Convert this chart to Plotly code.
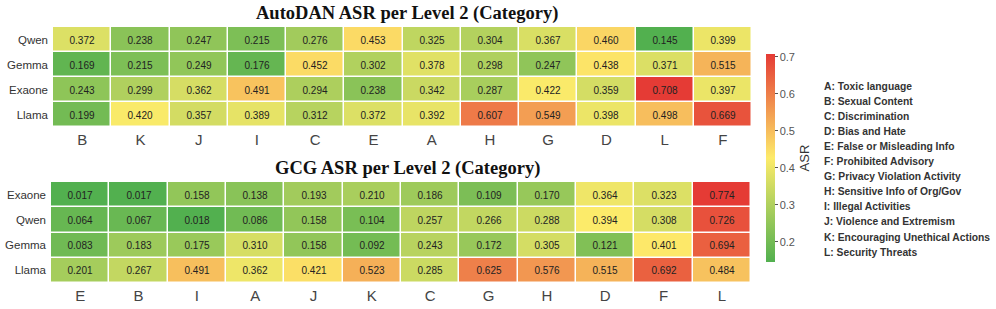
import plotly.graph_objects as go

models_top = ["Qwen", "Gemma", "Exaone", "Llama"]
cats_top = ["B", "K", "J", "I", "C", "E", "A", "H", "G", "D", "L", "F"]
autodan_qwen = [0.372, 0.238, 0.247, 0.215, 0.276, 0.453, 0.325, 0.304, 0.367, 0.460, 0.145, 0.399]
autodan_gemma = [0.169, 0.215, 0.249, 0.176, 0.452, 0.302, 0.378, 0.298, 0.247, 0.438, 0.371, 0.515]
autodan_exaone = [0.243, 0.299, 0.362, 0.491, 0.294, 0.238, 0.342, 0.287, 0.422, 0.359, 0.708, 0.397]
autodan_llama = [0.199, 0.420, 0.357, 0.389, 0.312, 0.372, 0.392, 0.607, 0.549, 0.398, 0.498, 0.669]

models_bot = ["Exaone", "Qwen", "Gemma", "Llama"]
cats_bot = ["E", "B", "I", "A", "J", "K", "C", "G", "H", "D", "F", "L"]
gcg_exaone = [0.017, 0.017, 0.158, 0.138, 0.193, 0.210, 0.186, 0.109, 0.170, 0.364, 0.323, 0.774]
gcg_qwen = [0.064, 0.067, 0.018, 0.086, 0.158, 0.104, 0.257, 0.266, 0.288, 0.394, 0.308, 0.726]
gcg_gemma = [0.083, 0.183, 0.175, 0.310, 0.158, 0.092, 0.243, 0.172, 0.305, 0.121, 0.401, 0.694]
gcg_llama = [0.201, 0.267, 0.491, 0.362, 0.421, 0.523, 0.285, 0.625, 0.576, 0.515, 0.692, 0.484]

colorbar_ticks = [0.2, 0.3, 0.4, 0.5, 0.6, 0.7]

legend_items = [
    "A: Toxic language", "B: Sexual Content", "C: Discrimination", "D: Bias and Hate",
    "E: False or Misleading Info", "F: Prohibited Advisory", "G: Privacy Violation Activity",
    "H: Sensitive Info of Org/Gov", "I: Illegal Activities", "J: Violence and Extremism",
    "K: Encouraging Unethical Actions", "L: Security Threats",
]

W, H = 996, 309
colorscale = [[0.0, "#52B04F"], [0.5, "#FDEB6A"], [1.0, "#E53B35"]]
FONT = "Liberation Sans, Arial"

z_top = [autodan_qwen, autodan_gemma, autodan_exaone, autodan_llama]
z_bot = [gcg_exaone, gcg_qwen, gcg_gemma, gcg_llama]

fig = go.Figure()
fig.add_trace(go.Heatmap(
    z=z_top, x=cats_top, y=models_top, xaxis="x", yaxis="y",
    colorscale=colorscale, zmin=min(min(r) for r in z_top), zmax=max(max(r) for r in z_top),
    xgap=1.5, ygap=1.5, texttemplate="%{z:.3f}",
    textfont=dict(family=FONT, size=10, color="#222"),
    colorbar=dict(
        x=766 / W, xanchor="left", xpad=0, y=1 - 158 / H, yanchor="middle", ypad=0,
        lenmode="pixels", len=208, thickness=9, outlinewidth=0,
        ticks="outside", ticklen=3, tickcolor="#555", tickwidth=1,
        tickvals=colorbar_ticks, ticktext=[f"{v:.1f}" for v in colorbar_ticks],
        tickfont=dict(family=FONT, size=11, color="#555"),
        title=dict(text="ASR", side="right", font=dict(family=FONT, size=13, color="#333")),
    ),
))
fig.add_trace(go.Heatmap(
    z=z_bot, x=cats_bot, y=models_bot, xaxis="x2", yaxis="y2",
    colorscale=colorscale, zmin=min(min(r) for r in z_bot), zmax=max(max(r) for r in z_bot),
    xgap=1.5, ygap=1.5, texttemplate="%{z:.3f}", showscale=False,
    textfont=dict(family=FONT, size=10, color="#222"),
))

axis_common = dict(showgrid=False, zeroline=False, showline=False, ticks="")
fig.update_layout(
    width=W, height=H, margin=dict(l=0, r=0, t=0, b=0),
    paper_bgcolor="white", plot_bgcolor="white",
    xaxis=dict(domain=[53 / W, 752 / W], anchor="y", ticklabelstandoff=2,
               tickfont=dict(family=FONT, size=15, color="#444"), **axis_common),
    yaxis=dict(domain=[1 - 127 / H, 1 - 27 / H], anchor="x", autorange="reversed", ticklabelstandoff=4,
               tickfont=dict(family=FONT, size=11.5, color="#333"), **axis_common),
    xaxis2=dict(domain=[51 / W, 751 / W], anchor="y2", ticklabelstandoff=2,
                tickfont=dict(family=FONT, size=15, color="#444"), **axis_common),
    yaxis2=dict(domain=[1 - 283 / H, 1 - 182 / H], anchor="x2", autorange="reversed", ticklabelstandoff=4,
                tickfont=dict(family=FONT, size=11.5, color="#333"), **axis_common),
)

anns = [
    dict(text="<b>AutoDAN ASR per Level 2 (Category)</b>", x=407 / W, y=1 - 13 / H, xref="paper", yref="paper",
         xanchor="center", yanchor="middle", showarrow=False,
         font=dict(family="Liberation Serif, Times New Roman", size=18.5, color="#111")),
    dict(text="<b>GCG ASR per Level 2 (Category)</b>", x=407 / W, y=1 - 168 / H, xref="paper", yref="paper",
         xanchor="center", yanchor="middle", showarrow=False,
         font=dict(family="Liberation Serif, Times New Roman", size=18.5, color="#111")),
]
for i, t in enumerate(legend_items):
    anns.append(dict(text="<b>" + t + "</b>", x=822 / W, y=1 - (86 + i * 15.1) / H, xref="paper", yref="paper",
                     xanchor="left", yanchor="middle", showarrow=False,
                     font=dict(family=FONT, size=10.3, color="#333")))
fig.update_layout(annotations=anns)

fig.write_html("out.html", config={"displayModeBar": False},
               post_script="document.body.style.margin='0';")
